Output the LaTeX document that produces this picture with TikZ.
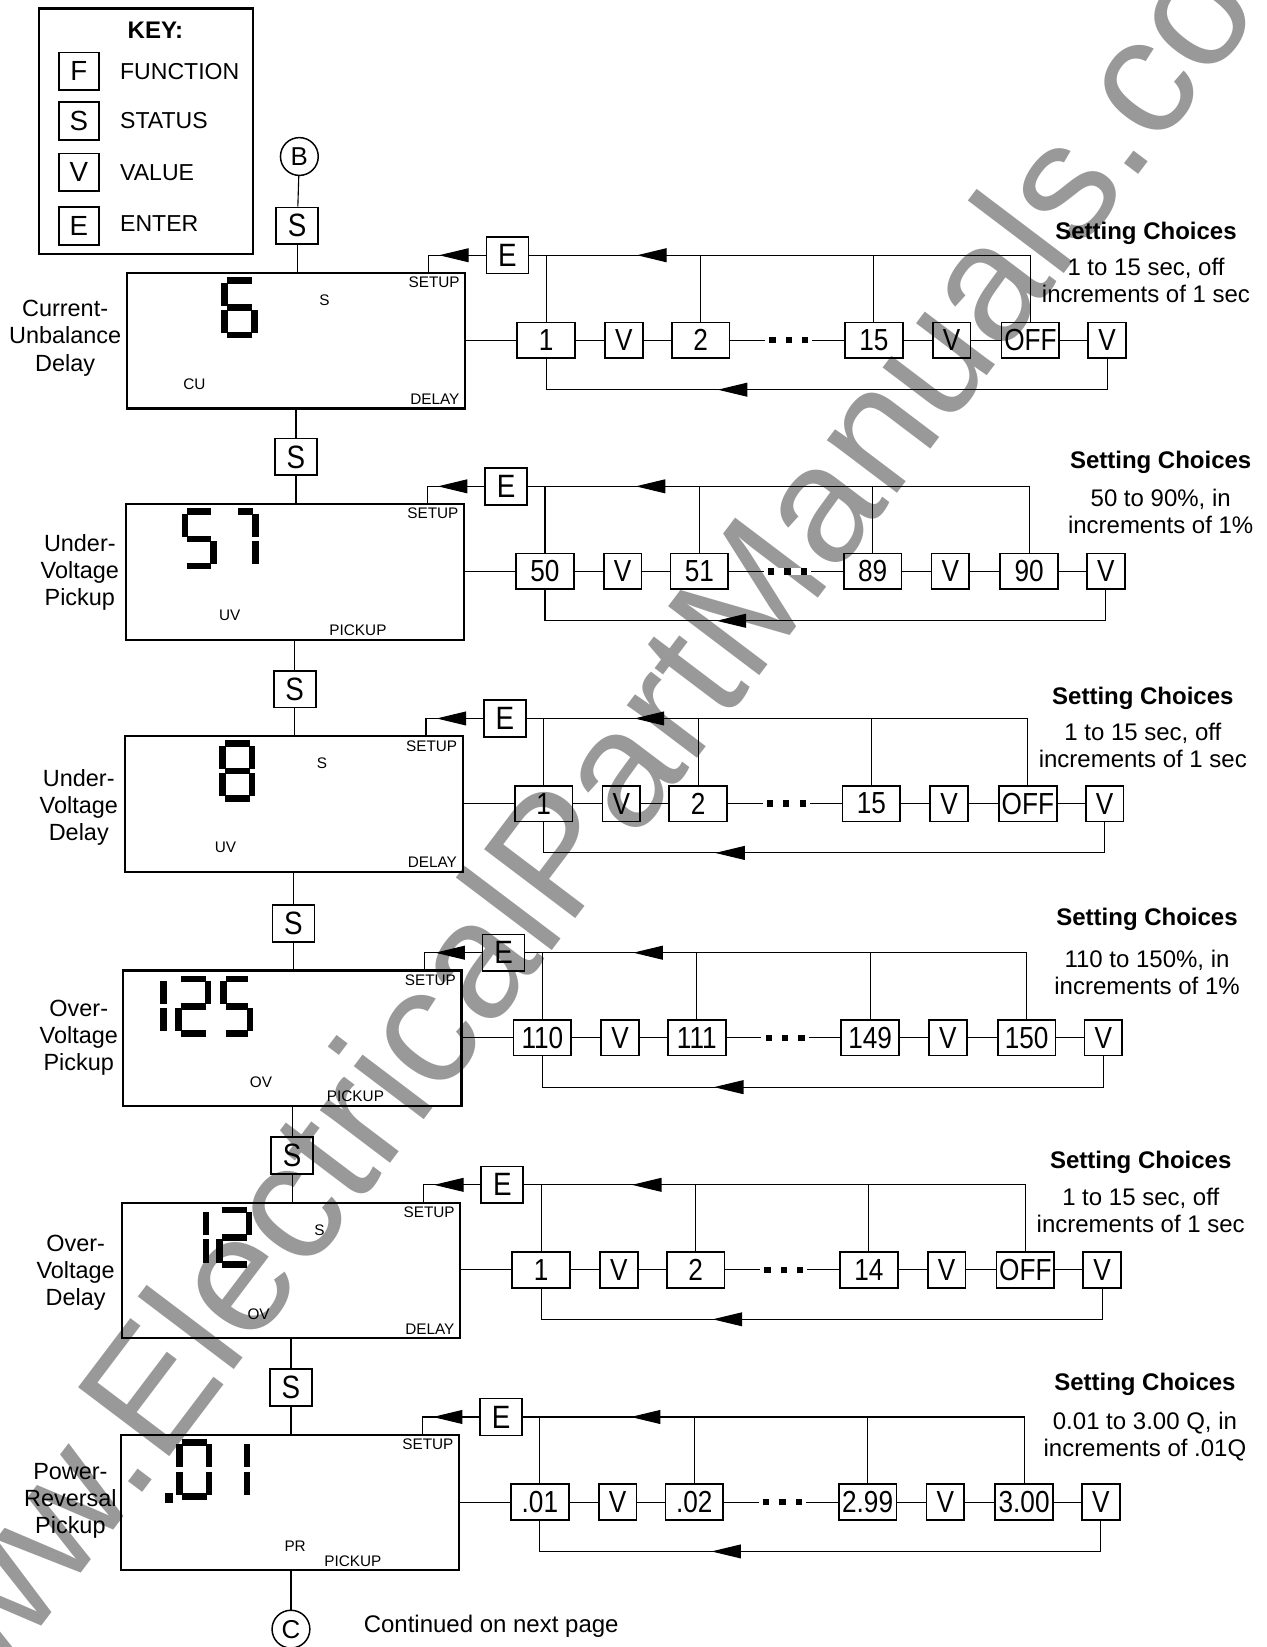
\documentclass[tikz,border=0pt]{standalone}
\usepackage{fontspec}
\setmainfont{Liberation Sans}
\newfontfamily\narrowfont{Liberation Sans}[FakeStretch=0.86]
\usepackage{tikz}
\usetikzlibrary{arrows.meta,positioning,calc,decorations.markings}

% seven segment digit: top-left x, top-left y, width, segments (1=a,...,7=g)
\newcommand{\lcddigit}[4]{%
  \foreach \sg in {#4}{%
    \ifcase\sg\or
      \draw[lcdseg] ({#1+2},#2) -- ({#1+#3-2},#2);\or
      \draw[lcdseg] ({#1+#3},{#2+2}) -- ({#1+#3},{#2+24});\or
      \draw[lcdseg] ({#1+#3},{#2+28}) -- ({#1+#3},{#2+50});\or
      \draw[lcdseg] ({#1+2},{#2+52}) -- ({#1+#3-2},{#2+52});\or
      \draw[lcdseg] (#1,{#2+28}) -- (#1,{#2+50});\or
      \draw[lcdseg] (#1,{#2+2}) -- (#1,{#2+24});\or
      \draw[lcdseg] ({#1+2},{#2+26}) -- ({#1+#3-2},{#2+26});\fi}}

\tikzset{
  keybox/.style={draw,line width=0.9pt,minimum width=0.76cm,minimum height=0.72cm,inner sep=0pt,font=\fontsize{15}{15}\selectfont},
  keytext/.style={anchor=west,inner sep=0pt,font=\fontsize{12.5}{12.5}\selectfont},
  btn/.style={draw,line width=0.9pt,minimum width=0.8cm,minimum height=0.7cm,inner sep=0pt,font=\narrowfont\fontsize{17.5}{17.5}\selectfont},
  valbox/.style={draw,line width=0.9pt,minimum width=1.1cm,minimum height=0.68cm,inner sep=0pt,font=\narrowfont\fontsize{16.5}{16.5}\selectfont},
  vbox/.style={valbox,minimum width=0.72cm},
  dots/.style={fill=white,inner xsep=2pt,inner ysep=0pt},
  lcd/.style={draw,line width=1.2pt,minimum width=6.44cm,minimum height=2.58cm,inner sep=0pt},
  lcdtext/.style={inner sep=0pt,font=\fontsize{8.3}{8.3}\selectfont},
  lcdseg/.style={line width=3.6pt},
  conn/.style={line width=0.6pt},
  link/.style={circle,draw,line width=0.8pt,minimum size=0.72cm,inner sep=0pt,font=\fontsize{14}{14}\selectfont},
  sidelabel/.style={align=center,inner sep=0pt,font=\fontsize{12.7}{14.7}\selectfont},
  choicehead/.style={inner sep=0pt,font=\bfseries\fontsize{13}{13}\selectfont},
  choicetext/.style={align=center,inner sep=0pt,font=\fontsize{13}{14.7}\selectfont},
  arrowat/.style={postaction={decorate},decoration={markings,mark=at position #1 with {\arrow{Triangle[length=16pt,width=7.5pt]}}}}
}

\begin{document}
\begin{tikzpicture}[x=0.02cm,y=-0.02cm]
\useasboundingbox (0,0) rectangle (1206,1568);

% watermark
\node[anchor=base,rotate=52.9,text=black!40,inner sep=0pt,font=\fontsize{90}{90}\selectfont] (wm) at (604,801) {www.ElectricalPartManuals.com};

% key
\node[draw,line width=1.4pt,minimum width=4.08cm,minimum height=4.68cm] (key) at (139,125) {};
\node[inner sep=0pt,font=\bfseries\fontsize{13}{13}\selectfont] (keyt) at (148,29) {KEY:};
\node[keybox] (kf) at (75,68) {F};
\node[keybox] (ks) at (75,115) {S};
\node[keybox] (kv) at (75,164) {V};
\node[keybox] (ke) at (75,215) {E};
\node[keytext] (kft) at (114,68) {FUNCTION};
\node[keytext] (kst) at (114,115) {STATUS};
\node[keytext] (kvt) at (114,164) {VALUE};
\node[keytext] (ket) at (114,213) {ENTER};

\node[link] (B) at (285,149) {B};

% one row per function
\foreach \r/\ty/\dx/\va/\vb/\vc/\vd/\fn/\fnx/\md/\mdx in {
  1/260/0/1/2/15/OFF/CU/185/DELAY/414,
  2/480/-1.2/50/51/89/90/UV/220/PICKUP/342,
  3/701/-2.4/1/2/15/OFF/UV/217/DELAY/414,
  4/924/-3.6/110/111/149/150/OV/252/PICKUP/342,
  5/1145/-4.8/1/2/14/OFF/OV/251/DELAY/414,
  6/1366/-6/.01/.02/2.99/3.00/PR/287/PICKUP/342}{
\begin{scope}[shift={(\dx,\ty)}]
  \node[lcd] (disp\r) at (282,64.5) {};
  \node[btn] (s\r) at (283,-45) {S};
  \draw[conn] (s\r) -- (s\r |- disp\r.north);
  \node[lcdtext,anchor=east] (setup\r) at (438,9) {SETUP};
  \node[lcdtext] (md\r) at (\mdx,120) {\md};
  \node[lcdtext] (fn\r) at (\fnx,106) {\fn};
  \ifodd\r\relax \node[lcdtext] (ind\r) at (309,26) {S};\fi
  \node[btn] (E\r) at (483,-17) {E};
  \coordinate (su\r) at (408,0);
  \draw[conn,arrowat=0.62] (E\r) -| (su\r);
  \node[valbox] (a\r) at (520,64) {\va};
  \node[vbox] (va\r) at (594,64) {V};
  \node[valbox] (b\r) at (667,64) {\vb};
  \node[dots] (dt\r) at (751,64) {\rule{3.4pt}{3.4pt}\hspace{5.5pt}\rule{3.4pt}{3.4pt}\hspace{5.5pt}\rule{3.4pt}{3.4pt}};
  \node[valbox] (c\r) at (832,64) {\vc};
  \node[vbox] (vc\r) at (906,64) {V};
  \node[valbox] (d\r) at (981,64) {\vd};
  \node[vbox] (vd\r) at (1054,64) {V};
  \coordinate (ret\r) at (520,111);
  \draw[conn] (disp\r.east |- a\r) -- (a\r) -- (va\r) -- (b\r) -- (dt\r) -- (c\r) -- (vc\r) -- (d\r) -- (vd\r);
  \draw[conn,arrowat=0.81] (d\r) |- (E\r);
  \foreach \n in {a,b,c} \draw[conn] (\n\r) -- (\n\r |- E\r);
  \draw[conn,arrowat=0.675] (vd\r) |- (ret\r) -- (a\r);
\end{scope}}

\draw[conn] (B) -- (s1);
\foreach \a/\b in {1/2,2/3,3/4,4/5,5/6} \draw[conn] (disp\a.south -| s\b) -- (s\b);

% displayed values
\lcddigit{214}{267}{28}{1,6,7,5,4,3}
\lcddigit{176}{487}{27}{1,6,7,3,4}
\lcddigit{225}{487}{18}{1,2,3}
\lcddigit{212}{708}{28}{1,2,3,4,5,6,7}
\lcddigit{155.5}{932}{0}{2,3}
\lcddigit{170}{932}{28}{1,2,7,5,4}
\lcddigit{213}{932}{25}{1,6,7,3,4}
\lcddigit{196}{1152}{0}{2,3}
\lcddigit{209}{1152}{28}{1,2,7,5,4}
\fill (157,1421) rectangle (165,1431);
\lcddigit{171}{1373}{28}{1,2,3,4,5,6}
\lcddigit{235}{1373}{0}{2,3}

% function names
\node[sidelabel] (l1) at (62,322) {Current-\\Unbalance\\Delay};
\node[sidelabel] (l2) at (76,545) {Under-\\Voltage\\Pickup};
\node[sidelabel] (l3) at (75,769) {Under-\\Voltage\\Delay};
\node[sidelabel] (l4) at (75,988) {Over-\\Voltage\\Pickup};
\node[sidelabel] (l5) at (72,1212) {Over-\\Voltage\\Delay};
\node[sidelabel] (l6) at (67,1429) {Power-\\Reversal\\Pickup};

% setting choices
\node[choicehead] (ch1) at (1091,222) {Setting Choices};
\node[choicetext] (ct1) at (1091,267) {1 to 15 sec, off\\increments of 1 sec};
\node[choicehead] (ch2) at (1105,440) {Setting Choices};
\node[choicetext] (ct2) at (1105,487) {50 to 90\%, in\\increments of 1\%};
\node[choicehead] (ch3) at (1088,665) {Setting Choices};
\node[choicetext] (ct3) at (1088,710) {1 to 15 sec, off\\increments of 1 sec};
\node[choicehead] (ch4) at (1092,875) {Setting Choices};
\node[choicetext] (ct4) at (1092,926) {110 to 150\%, in\\increments of 1\%};
\node[choicehead] (ch5) at (1086,1107) {Setting Choices};
\node[choicetext] (ct5) at (1086,1152) {1 to 15 sec, off\\increments of 1 sec};
\node[choicehead] (ch6) at (1090,1318) {Setting Choices};
\node[choicetext] (ct6) at (1090,1368) {0.01 to 3.00 Q, in\\increments of .01Q};

\node[link] (C) at (277,1551) {C};
\draw[conn] (disp6.south -| C) -- (C);
\node[anchor=west,inner sep=0pt,font=\fontsize{13}{13}\selectfont] (cont) at (346,1548) {Continued on next page};
\end{tikzpicture}
\end{document}
